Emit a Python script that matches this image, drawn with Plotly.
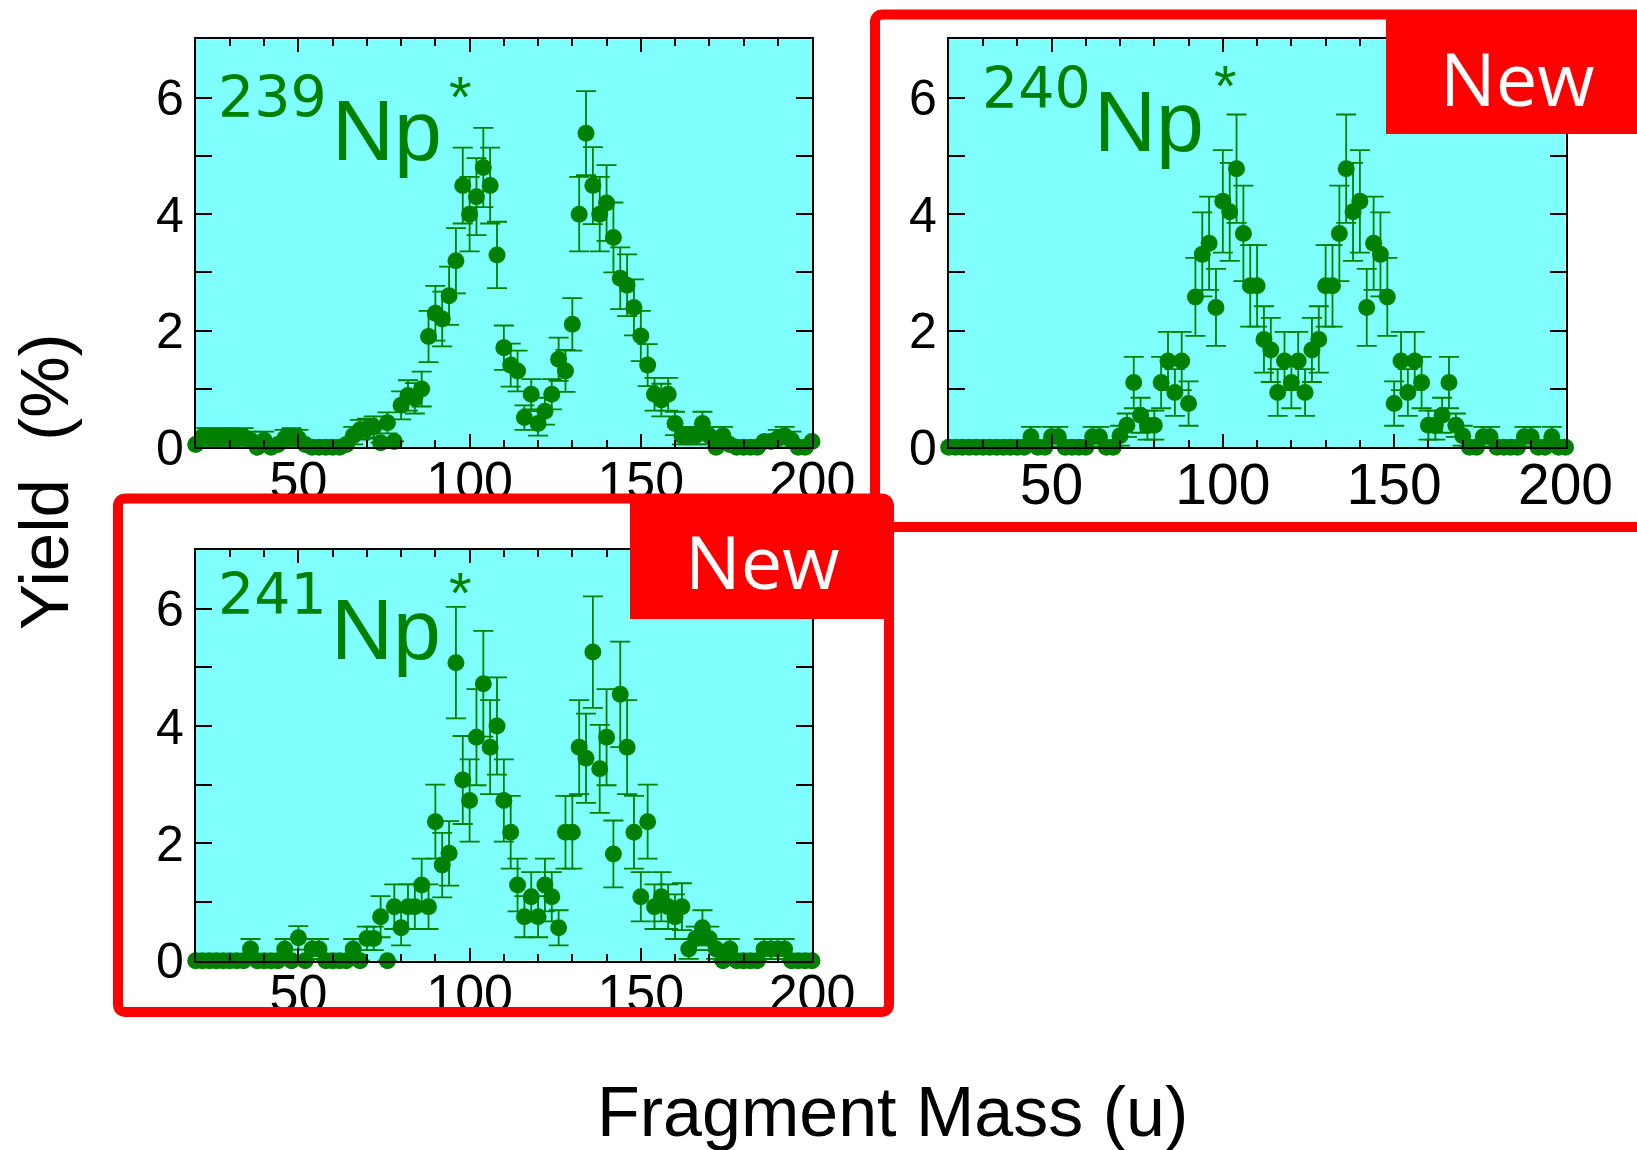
import plotly.graph_objects as go

W, H = 1637, 1150

# Fragment mass grid (u)
mass = list(range(20, 201, 2))

# 239Np* mass yields (%) and uncertainties
yield_239 = [0.05, 0.18, 0.18, 0.15, 0.18, 0.18, 0.15, 0.18, 0.12, 0.00,
             0.12, 0.00, 0.05, 0.15, 0.18, 0.15, 0.05, 0.00, 0.00, 0.00,
             0.00, 0.00, 0.05, 0.20, 0.30, 0.32, 0.35, 0.08, 0.42, 0.10,
             0.72, 0.89, 0.84, 1.00, 1.90, 2.30, 2.20, 2.60, 3.20, 4.49,
             4.00, 4.30, 4.80, 4.49, 3.30, 1.71, 1.41, 1.31, 0.51, 0.91,
             0.41, 0.62, 0.91, 1.51, 1.31, 2.11, 4.00, 5.39, 4.49, 4.00,
             4.19, 3.60, 2.90, 2.78, 2.40, 1.91, 1.41, 0.91, 0.81, 0.91,
             0.41, 0.20, 0.20, 0.20, 0.41, 0.20, 0.00, 0.20, 0.05, 0.00,
             0.00, 0.00, 0.00, 0.10, 0.10, 0.15, 0.20, 0.12, 0.00, 0.00,
             0.10]
err_239 = [None, 0.15, 0.15, 0.15, 0.15, 0.15, 0.15, 0.15, 0.15, None,
           0.15, None, None, 0.15, 0.15, 0.15, None, None, None, None,
           None, None, None, 0.15, 0.17, 0.17, 0.18, None, 0.18, None,
           0.24, 0.26, 0.26, 0.30, 0.44, 0.47, 0.47, 0.50, 0.56, 0.65,
           0.64, 0.66, 0.68, 0.65, 0.57, 0.38, 0.37, 0.35, 0.21, 0.26,
           0.21, 0.23, 0.26, 0.37, 0.36, 0.45, 0.64, 0.72, 0.66, 0.64,
           0.65, 0.60, 0.53, 0.53, 0.48, 0.43, 0.36, 0.28, 0.28, 0.28,
           0.20, 0.15, 0.15, 0.15, 0.20, 0.15, None, 0.15, None, None,
           None, None, None, None, None, 0.15, 0.15, 0.15, None, None,
           None]

# 240Np* mass yields (%) and uncertainties
yield_240 = [0.00, 0.00, 0.00, 0.00, 0.00, 0.00, 0.00, 0.00, 0.00, 0.00,
             0.00, 0.00, 0.18, 0.00, 0.00, 0.18, 0.18, 0.00, 0.00, 0.00,
             0.00, 0.18, 0.18, 0.00, 0.00, 0.20, 0.38, 1.11, 0.55, 0.38,
             0.38, 1.11, 1.48, 0.94, 1.48, 0.75, 2.58, 3.31, 3.50, 2.40,
             4.22, 4.04, 4.78, 3.67, 2.77, 2.77, 1.85, 1.67, 0.94, 1.48,
             1.11, 1.48, 0.94, 1.67, 1.85, 2.77, 2.77, 3.67, 4.78, 4.04,
             4.22, 2.40, 3.50, 3.31, 2.58, 0.75, 1.48, 0.94, 1.48, 1.11,
             0.38, 0.38, 0.55, 1.11, 0.38, 0.20, 0.00, 0.00, 0.18, 0.18,
             0.00, 0.00, 0.00, 0.00, 0.18, 0.18, 0.00, 0.00, 0.18, 0.00,
             0.00]
err_240 = [None, None, None, None, None, None, None, None, None, None,
           None, None, 0.17, None, None, 0.17, 0.17, None, None, None,
           None, 0.17, 0.17, None, None, 0.17, 0.20, 0.44, 0.30, 0.25,
           0.25, 0.44, 0.50, 0.40, 0.50, 0.38, 0.67, 0.72, 0.80, 0.66,
           0.88, 0.84, 0.93, 0.82, 0.70, 0.70, 0.57, 0.55, 0.40, 0.50,
           0.44, 0.50, 0.40, 0.55, 0.57, 0.70, 0.70, 0.82, 0.93, 0.84,
           0.88, 0.66, 0.80, 0.72, 0.67, 0.38, 0.50, 0.40, 0.50, 0.44,
           0.25, 0.25, 0.30, 0.44, 0.20, 0.17, None, None, 0.17, 0.17,
           None, None, None, None, 0.17, 0.17, None, None, 0.17, None,
           None]

# 241Np* mass yields (%) and uncertainties
yield_241 = [0.00, 0.00, 0.00, 0.00, 0.00, 0.00, 0.00, 0.00, 0.20, 0.00,
             0.00, 0.00, 0.00, 0.20, 0.00, 0.39, 0.00, 0.20, 0.20, 0.00,
             0.00, 0.00, 0.00, 0.20, 0.00, 0.38, 0.38, 0.75, 0.00, 0.92,
             0.56, 0.92, 0.92, 1.29, 0.92, 2.37, 1.63, 1.83, 5.08, 3.08,
             2.73, 3.81, 4.72, 3.64, 4.00, 2.73, 2.19, 1.29, 0.75, 1.09,
             0.75, 1.29, 1.09, 0.56, 2.19, 2.19, 3.64, 3.45, 5.26, 3.27,
             3.81, 1.82, 4.54, 3.64, 2.19, 1.09, 2.37, 0.92, 1.09, 0.92,
             0.75, 0.92, 0.20, 0.38, 0.56, 0.38, 0.20, 0.00, 0.20, 0.00,
             0.00, 0.00, 0.00, 0.20, 0.20, 0.20, 0.20, 0.00, 0.00, 0.00,
             0.00]
err_241 = [None, None, None, None, None, None, None, None, 0.17, None,
           None, None, None, 0.17, None, 0.20, None, 0.17, 0.17, None,
           None, None, None, 0.17, None, 0.20, 0.20, 0.35, None, 0.38,
           0.30, 0.38, 0.38, 0.45, 0.38, 0.63, 0.55, 0.55, 0.95, 0.75,
           0.70, 0.82, 0.90, 0.80, 0.83, 0.70, 0.62, 0.45, 0.35, 0.42,
           0.35, 0.45, 0.42, 0.30, 0.62, 0.62, 0.80, 0.76, 0.95, 0.75,
           0.82, 0.57, 0.90, 0.80, 0.62, 0.42, 0.63, 0.38, 0.42, 0.38,
           0.38, 0.40, 0.17, 0.20, 0.30, 0.20, 0.17, None, 0.17, None,
           None, None, None, 0.17, 0.17, 0.17, 0.17, None, None, None,
           None]

panel_labels = ["239", "240", "241"]

GREEN = "#008000"
CYAN = "#80FFFF"
RED = "#FF0000"
AXIS_FONT = "Liberation Sans, Arial, sans-serif"


def fx(x):
    """pixel x -> paper x"""
    return x / W


def fy(y):
    """pixel y (from top) -> paper y"""
    return 1 - y / H


# plot areas in pixels: (left, right, top, bottom)
areas = [(195.7, 812.0, 39.3, 447.3),
         (948.7, 1565.5, 39.3, 447.3),
         (195.7, 812.0, 550.0, 960.7)]
xtick_sizes = [52, 57, 52]

series = [(yield_239, err_239), (yield_240, err_240), (yield_241, err_241)]

fig = go.Figure()
layout = {}
for i, ((vals, errs), (l, r, t, b)) in enumerate(zip(series, areas)):
    n = "" if i == 0 else str(i + 1)
    fig.add_trace(go.Scatter(
        x=mass, y=vals, mode="markers",
        marker=dict(color=GREEN, size=17, line=dict(width=0)),
        error_y=dict(type="data", array=errs, visible=True, color=GREEN,
                     thickness=1.8, width=10),
        cliponaxis=False, showlegend=False,
        xaxis="x" + n, yaxis="y" + n,
    ))
    layout["xaxis" + n] = dict(
        domain=[fx(l), fx(r)], anchor="y" + n, range=[20, 200],
        automargin=False,
        showline=True, linecolor="black", linewidth=2, mirror="allticks",
        ticks="inside", ticklen=13, tickwidth=2, tickcolor="black",
        tick0=0, dtick=50, showgrid=False, zeroline=False,
        ticklabelstandoff=-14,
        tickfont=dict(family=AXIS_FONT, size=xtick_sizes[i], color="black"),
        minor=dict(ticks="inside", dtick=10, ticklen=7, tickwidth=2,
                   tickcolor="black", showgrid=False),
    )
    layout["yaxis" + n] = dict(
        domain=[fy(b), fy(t)], anchor="x" + n, range=[0, 7],
        automargin=False,
        showline=True, linecolor="black", linewidth=2, mirror="allticks",
        ticks="inside", ticklen=16, tickwidth=2, tickcolor="black",
        tick0=0, dtick=2, showgrid=False, zeroline=False,
        tickfont=dict(family=AXIS_FONT, size=50, color="black"),
        minor=dict(ticks="inside", dtick=1, ticklen=16, tickwidth=2,
                   tickcolor="black", showgrid=False),
    )

annotations = []
# isotope labels: mass number, element symbol, excitation asterisk
label_pos = [
    dict(num=(216.0, 96.7), sym=(330.0, 130.0), star=(460.0, 96.0)),
    dict(num=(980.0, 88.3), sym=(1092.0, 121.0), star=(1225.0, 85.0)),
    dict(num=(216.0, 594.0), sym=(329.0, 629.0), star=(460.0, 592.0)),
]
for lab, pos in zip(panel_labels, label_pos):
    annotations.append(dict(
        text=lab, x=fx(pos["num"][0]), y=fy(pos["num"][1]), xref="paper", yref="paper",
        xanchor="left", yanchor="middle", showarrow=False,
        font=dict(family="DejaVu Sans", size=57, color=GREEN)))
    annotations.append(dict(
        text="Np", x=fx(pos["sym"][0]), y=fy(pos["sym"][1]), xref="paper", yref="paper",
        xanchor="left", yanchor="middle", showarrow=False,
        font=dict(family=AXIS_FONT, size=86, color=GREEN)))
    annotations.append(dict(
        text="*", x=fx(pos["star"][0]), y=fy(pos["star"][1]), xref="paper", yref="paper",
        xanchor="center", yanchor="middle", showarrow=False,
        font=dict(family=AXIS_FONT, size=58, color=GREEN)))

# axis titles
annotations.append(dict(
    text="Fragment Mass (u)", x=fx(892), y=fy(1112), xref="paper", yref="paper",
    xanchor="center", yanchor="middle", showarrow=False,
    font=dict(family=AXIS_FONT, size=70, color="black")))
annotations.append(dict(
    text="Yield&nbsp;&nbsp;(%)", x=fx(44), y=fy(482), xref="paper", yref="paper",
    xanchor="center", yanchor="middle", showarrow=False, textangle=-90,
    font=dict(family=AXIS_FONT, size=69, color="black")))

# "New" badges
for cx, cy in [(1517, 77), (762, 560)]:
    annotations.append(dict(
        text="New", x=fx(cx), y=fy(cy), xref="paper", yref="paper",
        xanchor="center", yanchor="middle", showarrow=False,
        font=dict(family="Open Sans", size=74, color="white")))


def rounded_rect(x0, y0, x1, y1, r):
    """Closed SVG path (paper coords) of a rectangle given in pixels with rounded corners."""
    pts = [
        ("M", x0 + r, y0), ("L", x1 - r, y0), ("Q", x1, y0, x1, y0 + r),
        ("L", x1, y1 - r), ("Q", x1, y1, x1 - r, y1),
        ("L", x0 + r, y1), ("Q", x0, y1, x0, y1 - r),
        ("L", x0, y0 + r), ("Q", x0, y0, x0 + r, y0),
    ]
    parts = []
    for p in pts:
        cmd, coords = p[0], p[1:]
        xy = []
        for k in range(0, len(coords), 2):
            xy.append(f"{fx(coords[k]):.5f},{fy(coords[k + 1]):.5f}")
        parts.append(cmd + " " + " ".join(xy))
    return " ".join(parts) + " Z"


shapes = [
    # frame and badge around the 240Np* panel
    dict(type="path", path=rounded_rect(875, 14.5, 1700, 527, 8), xref="paper", yref="paper",
         line=dict(color=RED, width=10), fillcolor="rgba(0,0,0,0)", layer="above"),
    dict(type="rect", x0=fx(1386), x1=fx(1700), y0=fy(134), y1=fy(14.5), xref="paper", yref="paper",
         line=dict(width=0), fillcolor=RED, layer="above"),
    # frame and badge around the 241Np* panel
    dict(type="path", path=rounded_rect(118, 498.5, 889, 1012, 8), xref="paper", yref="paper",
         line=dict(color=RED, width=10), fillcolor="rgba(0,0,0,0)", layer="above"),
    dict(type="rect", x0=fx(630), x1=fx(889), y0=fy(619), y1=fy(498.5), xref="paper", yref="paper",
         line=dict(width=0), fillcolor=RED, layer="above"),
]

fig.update_layout(
    width=W, height=H, autosize=False,
    margin=dict(l=0, r=0, t=0, b=0, pad=0),
    paper_bgcolor="white", plot_bgcolor=CYAN,
    annotations=annotations, shapes=shapes,
    **layout,
)

fig.write_html("out.html")
